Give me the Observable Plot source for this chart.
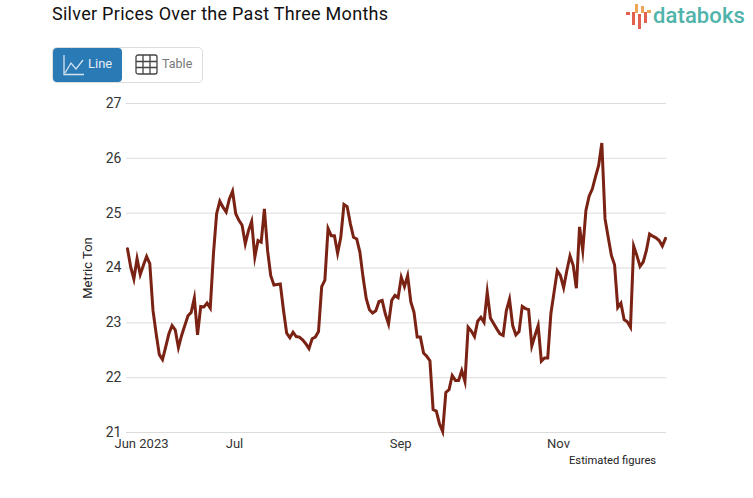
<!DOCTYPE html>
<html>
<head>
<meta charset="utf-8">
<script src="https://cdn.jsdelivr.net/npm/d3@7"></script>
<script src="https://cdn.jsdelivr.net/npm/@observablehq/plot@0.6"></script>
<style>
html,body{margin:0;padding:0;background:#fff;width:753px;height:498px;overflow:hidden;font-family:Roboto,sans-serif}
#chart{position:absolute;left:0;top:0}
.t{position:absolute;white-space:nowrap}
#title{left:52px;top:2px;font-size:18px;color:#111;line-height:24px;letter-spacing:.28px}
#group{position:absolute;left:52px;top:47px;width:149px;height:34px;border:1px solid #ddd;border-radius:5px}
#on{position:absolute;left:0;top:0;width:69px;height:34px;background:#2a7ab5;border-radius:4px}
#l1{left:88px;top:55px;font-size:13px;line-height:18px;color:#e6eef5}
#l2{left:162px;top:55px;font-size:12.5px;line-height:18px;color:#777}
#note{left:569px;top:453px;font-size:11.2px;line-height:15px;color:#222}
#word{left:653px;top:1px;font-size:22px;line-height:30px;font-weight:500;color:#4fb3aa;letter-spacing:.1px}
svg.ic{position:absolute}
</style>
</head>
<body>
<div id="chart"></div>
<div class="t" id="title">Silver Prices Over the Past Three Months</div>
<div id="group"><div id="on"></div></div>
<svg class="ic" style="left:62px;top:53px" width="24" height="24" fill="none" stroke="#d5e4f0" stroke-width="1.3"><path d="M2 2V21.5H22"/><path d="M3 20L9 10L14 16L21 7"/></svg>
<div class="t" id="l1">Line</div>
<svg class="ic" style="left:135px;top:54px" width="24" height="22" fill="none" stroke="#444" stroke-width="1.3"><rect x="1" y="1" width="21" height="19" rx="2"/><path d="M8 1V20M15 1V20M1 7.5H22M1 13.5H22"/></svg>
<div class="t" id="l2">Table</div>
<div class="t" id="note">Estimated figures</div>
<svg class="ic" style="left:625px;top:3px" width="28" height="26">
<g fill="#e2604f"><rect x="1" y="9" width="4" height="3"/><rect x="7" y="9" width="3" height="13"/><rect x="13" y="11" width="3" height="16"/><rect x="19" y="9" width="3" height="11"/></g>
<g fill="#efa654"><rect x="10" y="1" width="3" height="9"/><rect x="16" y="3" width="3" height="7"/><rect x="22" y="7" width="4" height="3"/></g>
</svg>
<div class="t" id="word">databoks</div>
<script>
const prices = [
24.35,24.02,23.80,24.17,23.88,24.05,24.21,24.08,23.23,22.80,
22.42,22.33,22.56,22.80,22.95,22.87,22.55,22.77,22.95,23.13,
23.19,23.45,22.78,23.30,23.29,23.36,23.27,24.26,24.99,25.22,
25.11,25.02,25.26,25.40,24.99,24.87,24.78,24.44,24.68,24.85,
24.20,24.50,24.47,25.08,24.32,23.86,23.69,23.70,23.71,23.23,
22.81,22.73,22.83,22.75,22.74,22.69,22.62,22.53,22.71,22.74,
22.84,23.66,23.78,24.72,24.59,24.59,24.27,24.56,25.16,25.12,
24.81,24.56,24.53,24.29,23.83,23.44,23.24,23.18,23.22,23.39,
23.41,23.16,22.98,23.41,23.50,23.46,23.83,23.66,23.86,23.38,
23.19,22.74,22.74,22.45,22.39,22.31,21.42,21.39,21.16,21.02,
21.73,21.78,22.04,21.95,21.95,22.13,21.93,22.92,22.85,22.75,
23.03,23.10,23.01,23.56,23.09,22.99,22.89,22.80,22.77,23.22,
23.43,22.95,22.78,22.84,23.30,23.26,23.24,22.58,22.77,22.95,
22.30,22.36,22.36,23.17,23.56,23.95,23.86,23.64,23.95,24.22,
24.05,23.63,24.75,24.32,25.05,25.31,25.44,25.66,25.87,26.28,
24.90,24.56,24.23,24.06,23.28,23.36,23.06,23.02,22.92,24.40,
24.23,24.03,24.11,24.32,24.62,24.58,24.55,24.50,24.40,24.54
];
const sessions = prices.map((_, i) => i);
const monthSessions = [4.4, 33.6, 85.8, 135.4];
const monthLabels = ["Jun 2023", "Jul", "Sep", "Nov"];
const yTicks = [21, 22, 23, 24, 25, 26, 27];
const yLabel = "Metric Ton";

const plot = Plot.plot({
  width: 753, height: 498,
  marginLeft: 127, marginRight: 88, marginTop: 103, marginBottom: 66,
  style: {fontFamily: "Roboto, sans-serif", background: "transparent", overflow: "visible"},
  x: {domain: [0, 169]},
  y: {domain: [21, 27]},
  marks: [
    Plot.ruleY(yTicks, {stroke: "#dcdcdc", strokeWidth: 1, strokeOpacity: 1, insetLeft: -1, insetRight: -1}),
    Plot.axisY({ticks: yTicks, tickSize: 0, tickPadding: 6, label: null, fontSize: 14, fill: "#333", tickFormat: d => String(d)}),
    Plot.axisX({ticks: monthSessions, tickSize: 0, tickPadding: 6, label: null, fontSize: 13, fill: "#333",
      tickFormat: d => monthLabels[monthSessions.indexOf(d)]}),
    Plot.text([yLabel], {frameAnchor: "left", textAnchor: "middle", dx: -40, rotate: -90, fontSize: 13, fill: "#222"}),
    Plot.line(sessions, {x: d => d, y: d => prices[d], stroke: "#7a2213", strokeWidth: 3, strokeLinejoin: "miter", strokeMiterlimit: 10, curve: "linear"})
  ]
});
document.getElementById("chart").append(plot);
</script>
</body>
</html>
